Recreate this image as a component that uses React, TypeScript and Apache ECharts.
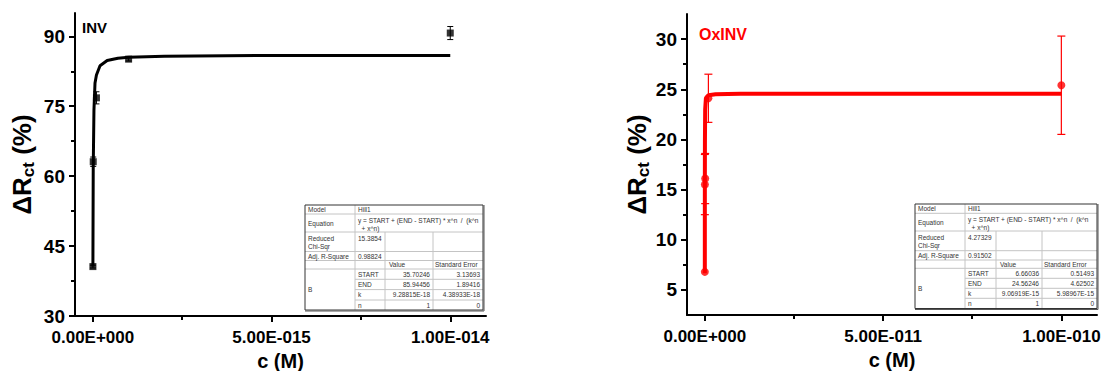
import React, { useEffect, useRef } from "react";
import * as echarts from "echarts";

const FONT = '"Liberation Sans", Arial, Helvetica, sans-serif';

// ---- INV panel data ----
const invConc = [1e-18, 1e-17, 1e-16, 1e-15, 1e-14];
const invDR = [40.6, 63.1, 76.8, 85.1, 90.7];
const invErr = [0.3, 1.0, 1.3, 0.4, 1.4];
const invFitX = [1e-18, 1e-17, 3e-17, 6e-17, 1e-16, 2e-16, 4e-16, 7e-16, 1e-15, 2e-15, 5e-15, 1e-14];
const invFitY = [40.6, 61.7, 74.1, 80.0, 81.7, 83.7, 84.8, 85.3, 85.5, 85.7, 85.9, 85.9];
const invXTicks = [0, 5e-15, 1e-14];
const invXMinor = [2.5e-15, 7.5e-15];
const invYTicks = [30, 45, 60, 75, 90];
const invYMinor = [37.5, 52.5, 67.5, 82.5];
const invTable = ["15.3854", "0.98824", "35.70246", "3.13693", "85.94456", "1.89416", "9.28815E-18", "4.38933E-18", "1", "0"];

// ---- OxINV panel data ----
const oxConc = [1e-15, 1e-14, 1e-13, 1e-12, 1e-10];
const oxDR = [6.8, 15.5, 16.1, 24.1, 25.4];
const oxErr = [0, 3.0, 2.5, 2.4, 4.9];
const oxFitX = [0, 1e-15, 5e-15, 1e-14, 3e-14, 1e-13, 3e-13, 1e-12, 3e-12, 1e-11, 1e-10];
const oxFitY = [6.66, 8.4, 14.1, 16.0, 19.9, 23.0, 24.1, 24.4, 24.5, 24.55, 24.56];
const oxXTicks = [0, 5e-11, 1e-10];
const oxXMinor = [2.5e-11, 7.5e-11];
const oxYTicks = [5, 10, 15, 20, 25, 30];
const oxYMinor = [7.5, 12.5, 17.5, 22.5, 27.5];
const oxTable = ["4.27329", "0.91502", "6.66036", "0.51493", "24.56246", "4.62502", "9.06919E-15", "5.98967E-15", "1", "0"];

const paramNames = ["START", "END", "k", "n"];

function fmtSci(v: number): string {
  if (Math.abs(v) < 1e-30) return "0.00E+000";
  const e = Math.floor(Math.log10(Math.abs(v)) + 1e-9);
  const m = v / Math.pow(10, e);
  const sign = e < 0 ? "-" : "+";
  return m.toFixed(2) + "E" + sign + String(Math.abs(e)).padStart(3, "0");
}

function buildTable(cols: number[], rows: number[], vals: string[]) {
  const ch: any[] = [];
  const fs = 6.5;
  const tcol = "#333";
  const inner = "#c4c4c4";
  const L = cols[0], R = cols[4], T = rows[0], B = rows[9];
  ch.push({ type: "rect", shape: { x: L, y: T, width: R - L, height: B - T }, style: { fill: "#fff", stroke: "none" }, z: 10 });
  for (let i = 1; i < 9; i++) {
    const x1 = i >= 6 ? cols[1] : L;
    ch.push({ type: "line", shape: { x1, y1: rows[i], x2: R, y2: rows[i] }, style: { stroke: inner, lineWidth: 1 }, z: 11 });
  }
  ch.push({ type: "line", shape: { x1: cols[1], y1: T, x2: cols[1], y2: B }, style: { stroke: inner, lineWidth: 1 }, z: 11 });
  ch.push({ type: "line", shape: { x1: cols[2], y1: rows[2], x2: cols[2], y2: B }, style: { stroke: inner, lineWidth: 1 }, z: 11 });
  ch.push({ type: "line", shape: { x1: cols[3], y1: rows[2], x2: cols[3], y2: B }, style: { stroke: inner, lineWidth: 1 }, z: 11 });
  ch.push({ type: "rect", shape: { x: L, y: T, width: R - L, height: B - T }, style: { fill: "none", stroke: "#333", lineWidth: 1 }, z: 12 });
  ch.push({ type: "line", shape: { x1: L, y1: B + 1, x2: R + 1, y2: B + 1 }, style: { stroke: "#555", lineWidth: 1 }, z: 12 });
  ch.push({ type: "line", shape: { x1: R + 1, y1: T, x2: R + 1, y2: B + 1 }, style: { stroke: "#555", lineWidth: 1 }, z: 12 });
  const txt = (text: string, x: number, y: number, align = "left", va = "middle") => {
    ch.push({ type: "text", x, y, z: 13, style: { text, fill: tcol, fontSize: fs, fontFamily: FONT, align, verticalAlign: va, lineHeight: 8 } });
  };
  const mid = (r: number) => (rows[r] + rows[r + 1]) / 2;
  txt("Model", L + 3, mid(0));
  txt("Hill1", cols[1] + 3, mid(0));
  txt("Equation", L + 3, mid(1));
  txt("y = START + (END - START) * x^n  /  (k^n\n  + x^n)", cols[1] + 3, rows[1] + 2, "left", "top");
  txt("Reduced\nChi-Sqr", L + 3, rows[2] + 2, "left", "top");
  txt(vals[0], cols[1] + 3, rows[2] + 2, "left", "top");
  txt("Adj. R-Square", L + 3, mid(3));
  txt(vals[1], cols[1] + 3, mid(3));
  txt("Value", cols[2] + 4, mid(4));
  txt("Standard Error", cols[3] + 2, mid(4));
  txt("B", L + 3, (rows[5] + rows[9]) / 2);
  for (let i = 0; i < 4; i++) {
    txt(paramNames[i], cols[1] + 3, mid(5 + i));
    txt(vals[2 + i * 2], cols[3] - 3, mid(5 + i), "right");
    txt(vals[3 + i * 2], cols[4] - 3, mid(5 + i), "right");
  }
  return ch;
}

function errorSeries(x: number[], y: number[], e: number[], ai: number, color: string, cap: number, lw: number) {
  return {
    type: "custom",
    xAxisIndex: ai,
    yAxisIndex: ai,
    z: 3,
    encode: { x: 0, y: 1 },
    data: x.map((v, i) => [v, y[i], e[i]]),
    renderItem: (params: any, api: any) => {
      const xv = api.value(0), yv = api.value(1), ev = api.value(2);
      if (!ev) return null;
      const t = api.coord([xv, yv + ev]);
      const b = api.coord([xv, yv - ev]);
      const st = { stroke: color, lineWidth: lw };
      return {
        type: "group",
        children: [
          { type: "line", shape: { x1: t[0], y1: t[1], x2: b[0], y2: b[1] }, style: st },
          { type: "line", shape: { x1: t[0] - cap, y1: t[1], x2: t[0] + cap, y2: t[1] }, style: st },
          { type: "line", shape: { x1: b[0] - cap, y1: b[1], x2: b[0] + cap, y2: b[1] }, style: st },
        ],
      };
    },
  };
}

const yName = (sz: number, sub: number) => ({
  name: "{a|ΔR}{b|ct}{a| (%)}",
  nameLocation: "middle",
  nameRotate: 90,
  nameTextStyle: {
    rich: {
      a: { fontSize: sz, fontWeight: "bold", fontFamily: FONT, color: "#000", lineHeight: sz + 4 },
      b: { fontSize: sub, fontWeight: "bold", fontFamily: FONT, color: "#000", verticalAlign: "bottom", lineHeight: 12 },
    },
  },
});

function mainX(grid: number, min: number, max: number, ticks: number[], nameGap: number) {
  return {
    gridIndex: grid, type: "value", min, max, position: "bottom",
    axisLine: { show: true, onZero: false, lineStyle: { color: "#000", width: 2 } },
    axisTick: { show: true, inside: false, length: 6, customValues: ticks, lineStyle: { color: "#000", width: 2 } },
    axisLabel: { show: true, customValues: ticks, formatter: (v: number) => fmtSci(v), fontSize: 17, fontWeight: "bold", color: "#000", fontFamily: FONT, margin: 13 },
    splitLine: { show: false },
    name: "c (M)", nameLocation: "middle", nameGap,
    nameTextStyle: { fontSize: 20, lineHeight: 21, fontWeight: "bold", color: "#000", fontFamily: FONT },
  };
}
function minorX(grid: number, min: number, max: number, ticks: number[]) {
  return {
    gridIndex: grid, type: "value", min, max, position: "bottom", offset: 0,
    axisLine: { show: false, onZero: false },
    axisTick: { show: true, inside: false, length: 4, customValues: ticks, lineStyle: { color: "#000", width: 2 } },
    axisLabel: { show: false },
    splitLine: { show: false },
  };
}
function mainY(grid: number, min: number, max: number, ticks: number[], nameGap: number, nsz: number, nsub: number) {
  return {
    gridIndex: grid, type: "value", min, max, position: "left",
    axisLine: { show: true, onZero: false, lineStyle: { color: "#000", width: 2 } },
    axisTick: { show: true, inside: false, length: 6, customValues: ticks, lineStyle: { color: "#000", width: 2 } },
    axisLabel: { show: true, customValues: ticks, fontSize: 19, fontWeight: "bold", color: "#000", fontFamily: FONT, margin: 10 },
    splitLine: { show: false },
    ...yName(nsz, nsub),
    nameGap,
  };
}
function minorY(grid: number, min: number, max: number, ticks: number[]) {
  return {
    gridIndex: grid, type: "value", min, max, position: "left", offset: 0,
    axisLine: { show: false, onZero: false },
    axisTick: { show: true, inside: false, length: 4, customValues: ticks, lineStyle: { color: "#000", width: 2 } },
    axisLabel: { show: false },
    splitLine: { show: false },
  };
}

export default function App() {
  const ref = useRef<HTMLDivElement>(null);
  useEffect(() => {
    document.body.style.margin = "0";
    const chart = echarts.init(ref.current!, null, { renderer: "svg" });
    const invXMin = -5e-16, invXMax = 1.1e-14;
    const oxXMin = -5e-12, oxXMax = 1.1e-10;
    const option: any = {
      animation: false,
      backgroundColor: "#fff",
      grid: [
        { left: 75, top: 13, width: 411, height: 303, containLabel: false, outerBoundsMode: "none" },
        { left: 687, top: 14, width: 410, height: 301, containLabel: false, outerBoundsMode: "none" },
      ],
      xAxis: [
        mainX(0, invXMin, invXMax, invXTicks, 29),
        minorX(0, invXMin, invXMax, invXMinor),
        mainX(1, oxXMin, oxXMax, oxXTicks, 30),
        minorX(1, oxXMin, oxXMax, oxXMinor),
      ],
      yAxis: [
        mainY(0, 30, 95, invYTicks, 38, 26, 17),
        minorY(0, 30, 95, invYMinor),
        mainY(1, 2.5, 32.5, oxYTicks, 32, 26, 17),
        minorY(1, 2.5, 32.5, oxYMinor),
      ],
      series: [
        {
          type: "line", xAxisIndex: 0, yAxisIndex: 0, z: 2,
          data: invFitX.map((x, i) => [x, invFitY[i]]),
          showSymbol: false, symbol: "none",
          lineStyle: { color: "#000", width: 3 },
        },
        errorSeries(invConc, invDR, invErr, 0, "#000", 3, 1),
        {
          type: "scatter", xAxisIndex: 0, yAxisIndex: 0, z: 4,
          data: invConc.map((x, i) => [x, invDR[i]]),
          symbol: "rect", symbolSize: 7,
          itemStyle: { color: "#000" },
        },
        {
          type: "line", xAxisIndex: 2, yAxisIndex: 2, z: 2,
          data: oxFitX.map((x, i) => [x, oxFitY[i]]),
          showSymbol: false, symbol: "none",
          lineStyle: { color: "#ff0000", width: 4 },
        },
        errorSeries(oxConc, oxDR, oxErr, 2, "#ff0000", 4, 1.2),
        {
          type: "scatter", xAxisIndex: 2, yAxisIndex: 2, z: 4,
          data: oxConc.map((x, i) => [x, oxDR[i]]),
          symbol: "circle", symbolSize: 8,
          itemStyle: { color: "#ff0000" },
        },
      ],
      graphic: [
        { type: "text", left: 82, top: 20, style: { text: "INV", fontSize: 15, fontWeight: "bold", fill: "#000", fontFamily: FONT } },
        { type: "text", left: 699, top: 26, style: { text: "OxINV", fontSize: 16, fontWeight: "bold", fill: "#ff0000", fontFamily: FONT } },
        { type: "group", children: buildTable([305, 355, 385, 433, 483], [205, 214, 232, 251.5, 260.5, 269, 279.3, 289.6, 300, 310], invTable) },
        { type: "group", children: buildTable([915, 965, 996, 1042, 1097], [204, 213.3, 231, 250.7, 260, 268.3, 278.3, 288.3, 298.3, 308.5], oxTable) },
      ],
    };
    chart.setOption(option);
    return () => chart.dispose();
  }, []);
  return <div ref={ref} style={{ width: 1107, height: 371 }} />;
}
